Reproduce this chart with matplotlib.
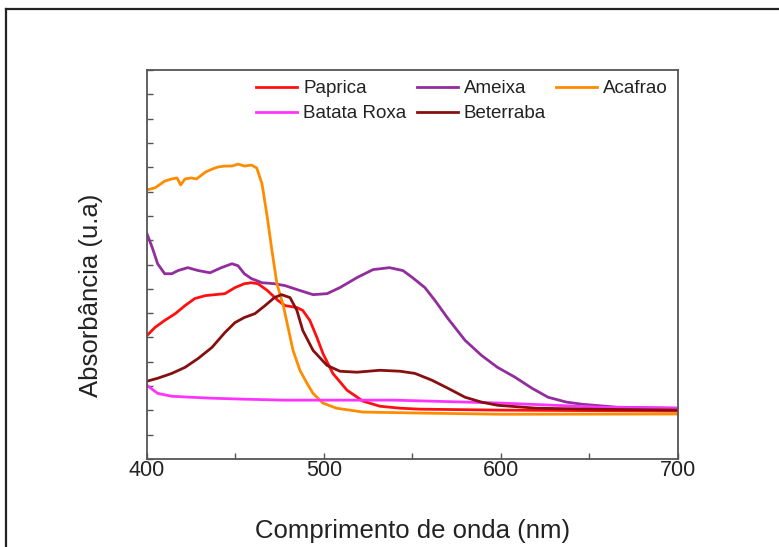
import matplotlib
matplotlib.use("Agg")
import matplotlib.pyplot as plt
from matplotlib.lines import Line2D
from matplotlib.ticker import MultipleLocator, NullFormatter

plt.rcParams['font.family'] = ['Liberation Sans', 'DejaVu Sans']

# ------------------------------
# Data (wavelength in nm, absorbance in a.u.)
# ------------------------------
paprica_nm = [400, 404.5, 410, 416, 421.5, 427, 433, 438.4, 444, 449.7, 455, 459, 462.7,
              468, 474, 478, 484.7, 488, 492, 496, 499.4, 505, 513, 522, 531.6, 543, 554,
              600, 700]
paprica_abs = [0.508, 0.541, 0.570, 0.598, 0.631, 0.660, 0.672, 0.676, 0.680, 0.705, 0.721,
               0.725, 0.721, 0.693, 0.652, 0.631, 0.623, 0.611, 0.570, 0.500, 0.434, 0.352,
               0.283, 0.238, 0.217, 0.209, 0.205, 0.201, 0.197]

ameixa_nm = [400, 403, 406, 410, 414, 417.5, 423, 429, 435.6, 442, 448, 451.4, 455, 459, 465,
             472, 478, 484.7, 493.8, 501.7, 509, 518.6, 527.7, 537, 544.6, 550, 557, 562.7,
             570, 579.7, 589, 598, 608, 617.5, 626.6, 637, 646, 665.5, 700]
ameixa_abs = [0.926, 0.869, 0.803, 0.762, 0.762, 0.775, 0.787, 0.775, 0.766, 0.787, 0.803,
              0.795, 0.762, 0.742, 0.725, 0.721, 0.713, 0.697, 0.676, 0.680, 0.705, 0.746,
              0.779, 0.787, 0.775, 0.746, 0.705, 0.652, 0.578, 0.488, 0.426, 0.377, 0.336,
              0.291, 0.254, 0.234, 0.225, 0.213, 0.209]

acafrao_nm = [400, 404.5, 410, 414, 417, 419, 421.5, 425, 428, 433, 437, 440, 444, 448, 451.5,
              455, 459, 462, 465, 468, 470.6, 473.4, 477, 482.5, 486.4, 490.4, 493.8, 499.4,
              507, 522, 554, 600, 700]
acafrao_abs = [1.107, 1.115, 1.143, 1.152, 1.156, 1.127, 1.152, 1.156, 1.152, 1.180, 1.193,
               1.201, 1.205, 1.205, 1.213, 1.205, 1.209, 1.197, 1.131, 0.992, 0.857, 0.721,
               0.631, 0.447, 0.365, 0.311, 0.270, 0.230, 0.209, 0.193, 0.189, 0.184, 0.185]

batata_nm = [400, 406, 414, 425, 437, 455, 478, 540, 600, 656, 700]
batata_abs = [0.303, 0.270, 0.258, 0.254, 0.250, 0.246, 0.242, 0.242, 0.230, 0.213, 0.209]

beterraba_nm = [400, 406, 414, 421.5, 429, 436.7, 444, 449.7, 455, 461, 466.7, 472, 476,
                480.8, 484.7, 488, 493.8, 501.7, 509, 518.6, 531.6, 543, 551.4, 561, 570,
                579.7, 589, 598, 620, 650, 700]
beterraba_abs = [0.320, 0.332, 0.352, 0.377, 0.414, 0.459, 0.520, 0.561, 0.582, 0.598, 0.631,
                 0.664, 0.676, 0.664, 0.611, 0.529, 0.447, 0.385, 0.361, 0.357, 0.365, 0.361,
                 0.352, 0.324, 0.291, 0.254, 0.234, 0.221, 0.209, 0.205, 0.201]

# ------------------------------
# Plot
# ------------------------------
fig = plt.figure(figsize=(7.79, 5.47), dpi=100)
ax = fig.add_axes([147 / 779, 1 - 459 / 547, 531 / 779, 389 / 547])

lw = 2.0
ax.plot(paprica_nm, paprica_abs, color='#ff1010', lw=lw, label='Paprica')
ax.plot(ameixa_nm, ameixa_abs, color='#912d9c', lw=lw, label='Ameixa')
ax.plot(acafrao_nm, acafrao_abs, color='#ff8c00', lw=lw, label='Acafrao')
ax.plot(batata_nm, batata_abs, color='#ff33ff', lw=lw, label='Batata Roxa')
ax.plot(beterraba_nm, beterraba_abs, color='#861010', lw=lw, label='Beterraba')

ax.set_xlim(400, 700)
ax.set_ylim(0, 1.6)
ax.xaxis.set_major_locator(MultipleLocator(100))
ax.xaxis.set_minor_locator(MultipleLocator(50))
ax.yaxis.set_major_locator(MultipleLocator(0.1))
ax.yaxis.set_major_formatter(NullFormatter())
ax.tick_params(axis='x', which='both', direction='in', length=4, width=1,
               color='#555555', labelsize=15.5, labelcolor='#222222', pad=1)
ax.tick_params(axis='y', which='both', direction='in', length=4, width=1,
               color='#555555')
for s in ax.spines.values():
    s.set_color('#555555')
    s.set_linewidth(1.3)

ax.set_xlabel('Comprimento de onda (nm)', fontsize=18.5, color='#222222')
ax.set_ylabel('Absorbância (u.a)', fontsize=18.5, color='#222222')
ax.xaxis.set_label_coords(0.5, -0.155)
ax.yaxis.set_label_coords(-0.083, 0.42)

# legend: column-wise fill so rows read Paprica/Ameixa/Acafrao, Batata Roxa/Beterraba
h, l = ax.get_legend_handles_labels()
order = [0, 3, 1, 4, 2]
ax.legend([h[i] for i in order], [l[i] for i in order], ncol=3, loc='upper right',
          bbox_to_anchor=(1.0, 1.0), frameon=False, fontsize=13.5, handlelength=2.2,
          handletextpad=0.3, columnspacing=0.55, labelspacing=0.42, borderaxespad=0.3,
          borderpad=0.25, labelcolor='#222222')

# outer frame (only left and top visible in the reference crop)
fig.add_artist(Line2D([6 / 779, 6 / 779], [0, 1 - 9 / 547], color='#222222', lw=1.6))
fig.add_artist(Line2D([6 / 779, 1], [1 - 9 / 547, 1 - 9 / 547], color='#222222', lw=1.6))

plt.savefig("out.png", dpi=100)
